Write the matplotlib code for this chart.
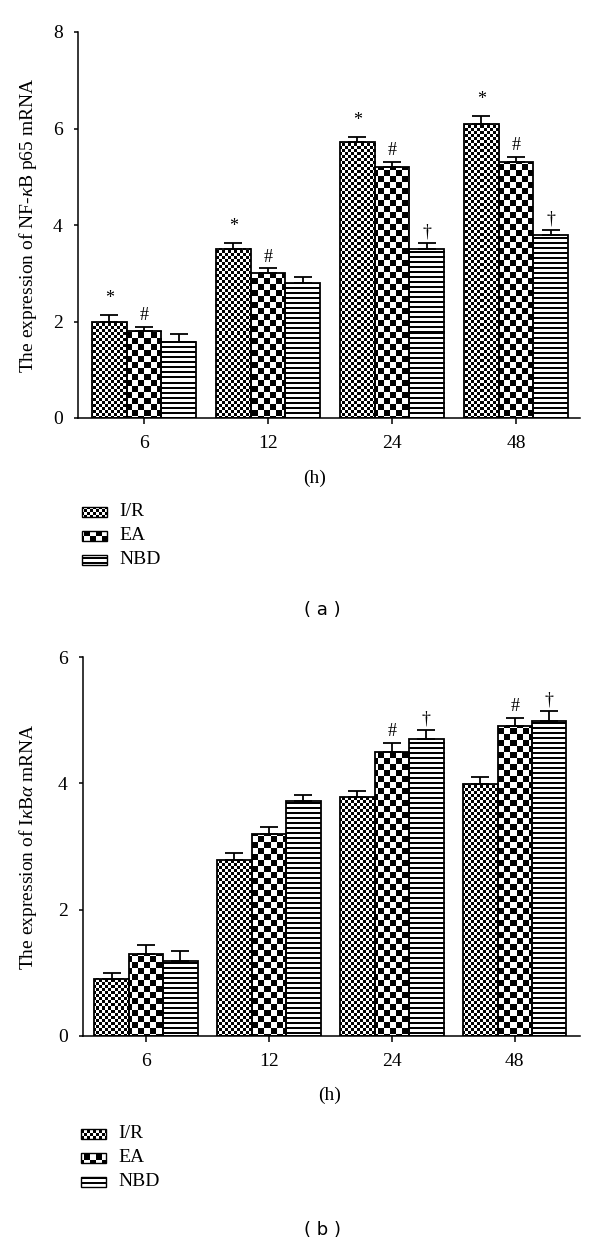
import numpy as np
import matplotlib
matplotlib.use('Agg')
import matplotlib.pyplot as plt
from matplotlib.patches import Rectangle

plt.rcParams['font.family'] = ['Liberation Serif', 'DejaVu Serif']
plt.rcParams['mathtext.fontset'] = 'custom'
plt.rcParams['mathtext.rm'] = 'Liberation Serif'
plt.rcParams['mathtext.it'] = 'Liberation Serif:italic'

# time points and groups
hours = ['6', '12', '24', '48']
groups = ['I/R', 'EA', 'NBD']
kinds = ['fine', 'coarse', 'lines']

# (a) NF-kB p65 mRNA
p65_ir = [2.0, 3.5, 5.72, 6.09]
p65_ea = [1.8, 3.0, 5.2, 5.3]
p65_nbd = [1.57, 2.8, 3.5, 3.79]
p65_ir_err = [0.13, 0.12, 0.10, 0.17]
p65_ea_err = [0.09, 0.10, 0.10, 0.11]
p65_nbd_err = [0.18, 0.12, 0.13, 0.11]
p65_ir_mark = ['*', '*', '*', '*']
p65_ea_mark = ['#', '#', '#', '#']
p65_nbd_mark = ['', '', '†', '†']

# (b) IkBa mRNA
ikb_ir = [0.9, 2.78, 3.78, 3.99]
ikb_ea = [1.3, 3.2, 4.49, 4.9]
ikb_nbd = [1.19, 3.72, 4.7, 4.98]
ikb_ir_err = [0.10, 0.12, 0.10, 0.11]
ikb_ea_err = [0.14, 0.11, 0.15, 0.13]
ikb_nbd_err = [0.16, 0.10, 0.14, 0.16]
ikb_ir_mark = ['', '', '', '']
ikb_ea_mark = ['', '', '#', '#']
ikb_nbd_mark = ['', '', '†', '†']


def pattern(X, Y, kind):
    if kind == 'fine':
        return ((X // 3 + Y // 3) % 2).astype(float)
    if kind == 'coarse':
        return ((X // 6 + Y // 6) % 2).astype(float)
    return (Y % 5 >= 2).astype(float)


def fill_pattern(ax, rect, kind):
    # paint the texture pixel by pixel inside the rectangle
    bb = rect.get_window_extent()
    i0, i1 = int(round(bb.x0)), int(round(bb.x1))
    j0, j1 = int(round(bb.y0)), int(round(bb.y1))
    if i1 <= i0 or j1 <= j0:
        return
    X, Y = np.meshgrid(np.arange(i0, i1), np.arange(j0, j1)[::-1])
    inv = ax.transData.inverted()
    (dx0, dy0), (dx1, dy1) = inv.transform([(i0, j0), (i1, j1)])
    ax.imshow(pattern(X, Y, kind), cmap='gray', vmin=0, vmax=1,
              extent=(dx0, dx1, dy0, dy1), interpolation='nearest',
              aspect='auto', zorder=2)


fig = plt.figure(figsize=(6, 12.44), dpi=100)


def panel(rect, xlim, ymax, series, errs, marks, ylabel, lab_x, hx):
    ax = fig.add_axes(rect)
    ax.set_xlim(*xlim)
    ax.set_ylim(0, ymax)
    x = np.arange(len(hours))
    w = 0.28
    for k, (vals, err, mk) in enumerate(zip(series, errs, marks)):
        pos = x + (k - 1) * w
        bars = ax.bar(pos, vals, w, yerr=[np.zeros(len(vals)), err],
                      fill=False, edgecolor='black', linewidth=1.3, zorder=3,
                      error_kw=dict(ecolor='black', elinewidth=1.3,
                                    capsize=6.8, capthick=1.3, zorder=4))
        for b in bars:
            fill_pattern(ax, b, kinds[k])
        for p, v, e, m in zip(pos, vals, err, mk):
            if m:
                off = 6 if m == '*' else 2
                ax.annotate(m, (p, v + e), xytext=(0, off),
                            textcoords='offset points', ha='center',
                            va='bottom', fontsize=13)
    ax.spines['top'].set_visible(False)
    ax.spines['right'].set_visible(False)
    ax.spines['left'].set_linewidth(1.1)
    ax.spines['bottom'].set_linewidth(1.1)
    ax.set_xticks(x)
    ax.set_xticklabels(hours)
    ax.set_yticks(np.arange(0, ymax + 1, 2))
    ax.tick_params(axis='y', direction='out', length=3, width=1.1,
                   pad=8, labelsize=14)
    ax.tick_params(axis='x', direction='out', length=4.5, width=1.1,
                   pad=8, labelsize=14)
    ax.set_ylabel(ylabel, fontsize=14)
    ax.yaxis.set_label_coords(lab_x, 0.5)
    ax.set_xlabel('(h)', fontsize=14)
    ax.xaxis.set_label_coords(hx, -0.135)
    return ax


panel([78 / 600, 1 - 418 / 1244, 502 / 600, 386 / 1244], (-0.532, 3.516), 8,
      [p65_ir, p65_ea, p65_nbd], [p65_ir_err, p65_ea_err, p65_nbd_err],
      [p65_ir_mark, p65_ea_mark, p65_nbd_mark],
      r'The expression of NF-$\kappa$B p65 mRNA', -0.078, 0.472)

panel([83 / 600, 1 - 1036 / 1244, 497 / 600, 379 / 1244], (-0.512, 3.53), 6,
      [ikb_ir, ikb_ea, ikb_nbd], [ikb_ir_err, ikb_ea_err, ikb_nbd_err],
      [ikb_ir_mark, ikb_ea_mark, ikb_nbd_mark],
      r'The expression of I$\kappa$B$\alpha$ mRNA', -0.0885, 0.497)

# legends drawn on an overlay in pixel coordinates
lg = fig.add_axes([0, 0, 1, 1])
lg.set_xlim(0, 600)
lg.set_ylim(1244, 0)
lg.axis('off')
for top, sx in [(512, 82), (1134, 81)]:
    for k, g in enumerate(groups):
        yc = top + k * 24
        r = Rectangle((sx, yc - 5), 25, 10, fill=False, edgecolor='black',
                      linewidth=1.0, zorder=3)
        lg.add_patch(r)
        fill_pattern(lg, r, kinds[k])
        lg.text(sx + 37, yc, g, fontsize=14, va='center', ha='left')

fig.text(322 / 600, 1 - 610 / 1244, '( a )', family='DejaVu Sans',
         fontsize=13, ha='center', va='center')
fig.text(322 / 600, 1 - 1230 / 1244, '( b )', family='DejaVu Sans',
         fontsize=13, ha='center', va='center')

fig.savefig('out.png', dpi=100)
